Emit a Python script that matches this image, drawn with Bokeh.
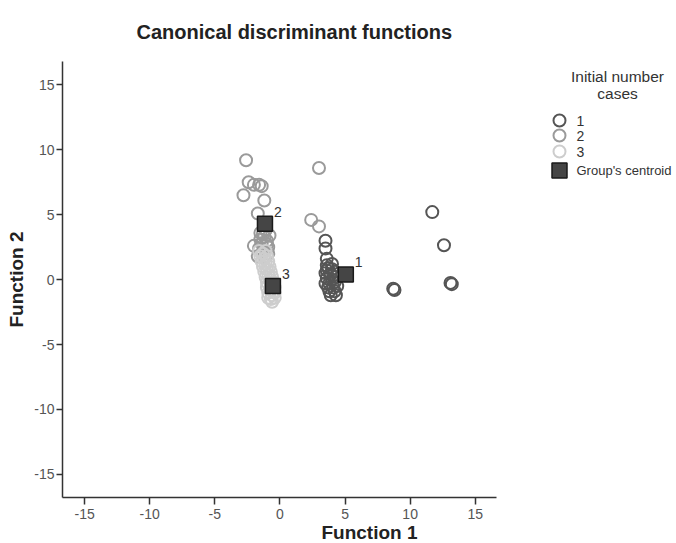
from bokeh.plotting import figure
from bokeh.models import ColumnDataSource, Range1d, FixedTicker
from bokeh.core.properties import value
from bokeh.embed import file_html
from bokeh.resources import INLINE

# ---- data ----
g1_x = [8.8, 8.7, 11.7, 12.6, 13.1, 13.2,
        3.5, 3.5, 3.6, 3.6,
        3.7, 4.0, 3.5, 3.9, 4.2, 3.6, 4.0, 4.3, 3.5, 3.8, 4.2, 3.7, 4.1, 4.4, 3.8, 4.2, 3.9, 4.3, 4.0, 3.6]
g1_y = [-0.8, -0.7, 5.2, 2.65, -0.25, -0.35,
        3.0, 2.4, 1.6, 1.1,
        0.9, 0.8, 0.5, 0.4, 0.6, 0.1, 0.0, 0.2, -0.3, -0.3, -0.2, -0.6, -0.6, -0.5, -0.9, -0.9, -1.2, -1.2, 1.2, 0.7]

g2_x = [-2.6, -2.4, -2.0, -1.6, -1.4, -2.8, -1.2, -1.7, 3.0, 2.4, 3.0,
        -2.0, -1.7, -1.5, -1.2, -1.0, -1.4, -0.9, -1.3, -1.6, -0.8, -1.1, -1.5, -0.9, -1.2, -1.0, -1.3]
g2_y = [9.2, 7.5, 7.3, 7.3, 7.2, 6.5, 6.1, 5.1, 8.6, 4.6, 4.1,
        2.6, 1.8, 3.6, 3.3, 3.0, 2.8, 2.5, 2.2, 2.4, 3.4, 3.8, 3.1, 2.0, 1.7, 2.7, 3.5]

g3_x = [-1.6, -1.1, -1.5, -1.0, -1.4, -0.9, -1.3, -0.8, -1.2, -0.7, -1.1, -0.6, -1.0, -0.5,
        -1.0, -0.4, -0.9, -0.4, -0.9, -0.4, -0.6,
        -1.3, -1.2, -1.1, -1.0, -0.9, -0.8, -0.7, -0.7, -0.6, -0.7]
g3_y = [2.2, 2.2, 1.8, 1.8, 1.4, 1.4, 1.0, 1.0, 0.6, 0.6, 0.2, 0.2, -0.2, -0.2,
        -0.6, -0.6, -1.0, -1.0, -1.4, -1.4, -1.7,
        2.0, 1.6, 1.2, 0.8, 0.4, 0.0, -0.4, -0.8, -1.2, -1.5]

cent_x = [5.06, -1.15, -0.54]
cent_y = [0.4, 4.3, -0.5]
cent_lab = ["1", "2", "3"]

ticks = [-15, -10, -5, 0, 5, 10, 15]
group_names = ["1", "2", "3"]
group_colors = ["#555555", "#9a9a9a", "#cdcdcd"]
legend_title = ["Initial number", "cases"]
centroid_name = "Group's centroid"

FONT = "Liberation Sans"

# ---- layout (pixels) ----
LEFT, TOP = 62, 60
FRAME_W, FRAME_H = 614, 436
X0, X_AXIS_END = -16.7, 16.6
Y0, Y1 = -16.78, 16.8
XSCALE = 13.02                    # px per unit along x
x_end = X0 + FRAME_W / XSCALE
YSCALE = FRAME_H / (Y1 - Y0)


def dx(px):
    return X0 + (px - LEFT) / XSCALE


def dy(py):
    return Y1 - (py - TOP) / YSCALE


p = figure(frame_width=FRAME_W, frame_height=FRAME_H, output_backend="svg", toolbar_location=None,
           x_range=Range1d(X0, x_end), y_range=Range1d(Y0, Y1),
           min_border_left=LEFT, min_border_top=TOP, min_border_right=0, min_border_bottom=47)
p.outline_line_color = None
p.grid.grid_line_color = None
p.background_fill_color = "white"
p.border_fill_color = "white"

p.title.text = "Canonical discriminant functions"
p.title.text_font = FONT
p.title.text_font_size = "20px"
p.title.text_font_style = "bold"
p.title.text_color = "#222222"
p.title.align = "left"
p.title.offset = 74
p.title.standoff = 37

for ax in (p.xaxis[0], p.yaxis[0]):
    ax.ticker = FixedTicker(ticks=ticks)
    ax.major_label_overrides = {t: str(t) for t in ticks}
    ax.minor_tick_line_color = None
    ax.major_tick_in = 0
    ax.major_tick_out = 6
    ax.major_tick_line_color = "#333333"
    ax.major_tick_line_width = 1.5
    ax.axis_line_color = "#333333"
    ax.axis_line_width = 1.5
    ax.major_label_text_font = FONT
    ax.major_label_text_font_size = "14px"
    ax.major_label_text_color = "#555555"
    ax.major_label_standoff = 2
    ax.axis_label_text_font = FONT
    ax.axis_label_text_font_style = "bold"
    ax.axis_label_text_color = "#222222"
    ax.axis_label_text_font_size = "19px"
p.xaxis.bounds = (X0, X_AXIS_END)
p.yaxis.bounds = (Y0, Y1)
p.xaxis.major_tick_out = 7
p.xaxis.major_label_standoff = 4
p.xaxis.axis_label = "Function 1"
p.yaxis.axis_label = "Function 2"
p.xaxis.axis_label_standoff = 0
p.yaxis.axis_label_standoff = 4

for gx, gy, col in zip([g1_x, g2_x, g3_x], [g1_y, g2_y, g3_y], group_colors):
    p.scatter(gx, gy, marker="circle", size=12, fill_color=None,
              line_color=col, line_width=2)

csrc = ColumnDataSource(dict(x=cent_x, y=cent_y, t=cent_lab))
p.scatter("x", "y", source=csrc, marker="square", size=15,
          fill_color="#454545", line_color="#1a1a1a", line_width=1.5)
p.text("x", "y", text="t", source=csrc, x_offset=9, y_offset=-7,
       text_font=value(FONT), text_font_size="14px", text_color="#333333",
       text_baseline="bottom", text_align="left")

# ---- legend (drawn in the empty right part of the frame) ----
key_x = dx(559)
lab_x = dx(576)
key_y = [dy(119), dy(134), dy(150)]
p.scatter([key_x] * 3, key_y, marker="circle", size=12, fill_color=None,
          line_color=group_colors, line_width=2)
p.scatter([key_x], [dy(169)], marker="square", size=15,
          fill_color="#454545", line_color="#1a1a1a", line_width=1.5)
p.text([lab_x] * 3, key_y, text=group_names,
       text_font=value(FONT), text_font_size="14px", text_color="#333333",
       text_baseline="middle", text_align="left")
p.text([lab_x], [dy(169)], text=[centroid_name],
       text_font=value(FONT), text_font_size="13px", text_color="#333333",
       text_baseline="middle", text_align="left")
p.text([dx(617)] * 2, [dy(75), dy(92)], text=legend_title,
       text_font=value(FONT), text_font_size="15.5px", text_color="#333333",
       text_baseline="middle", text_align="center")

open("out.html", "w").write(file_html(p, INLINE))
